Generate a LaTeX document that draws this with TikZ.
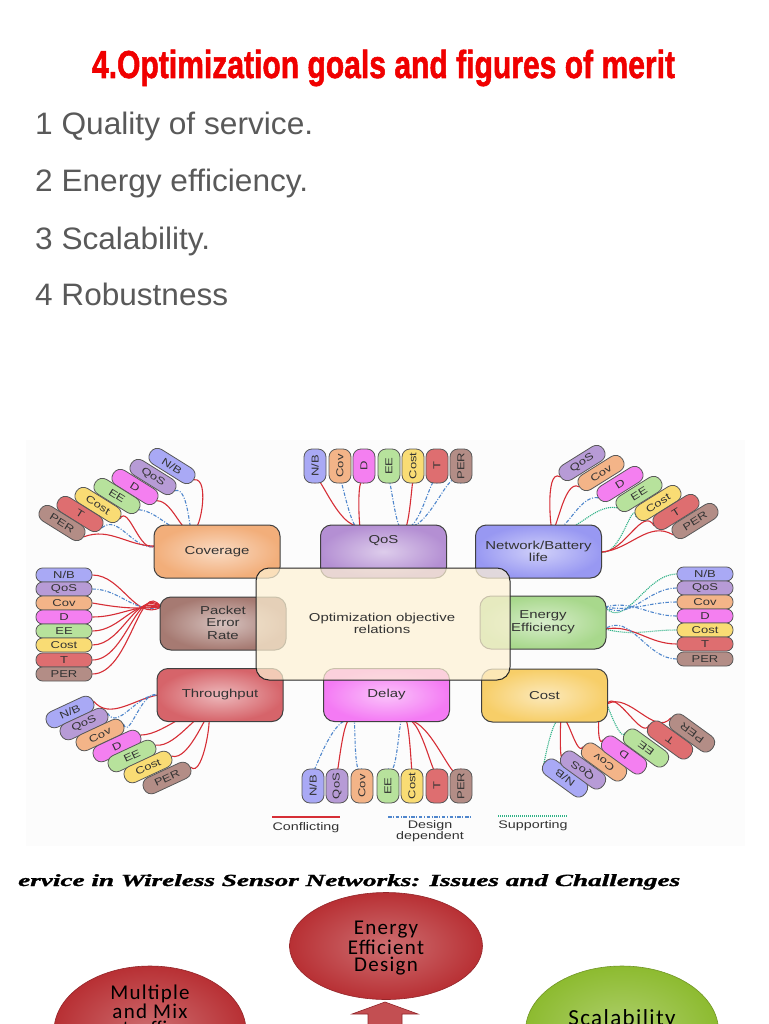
\documentclass[tikz,border=0pt]{standalone}
\usepackage{fontspec}
\setmainfont{Liberation Sans}
\newfontfamily\titlefont{Liberation Sans}[BoldFeatures={FakeBold=1.6}]
\newfontfamily\dfont{Liberation Sans}[FakeStretch=1.3]
\newfontfamily\carl[LetterSpace=6]{Carlito}
\newfontfamily\tser{Liberation Serif}[BoldItalicFeatures={FakeBold=1.2}]
\usetikzlibrary{calc,shapes.geometric}
\pgfdeclarelayer{bg}
\pgfsetlayers{bg,main}
\definecolor{titlered}{HTML}{F00000}
\definecolor{bulgray}{HTML}{595959}
\definecolor{bCov}{HTML}{F2AE7A}
\definecolor{bQoS}{HTML}{B48FD3}
\definecolor{bNet}{HTML}{9898F2}
\definecolor{bPER}{HTML}{A67A72}
\definecolor{bEE}{HTML}{A8D88C}
\definecolor{bThr}{HTML}{D6646A}
\definecolor{bDel}{HTML}{F47AF4}
\definecolor{bCst}{HTML}{F7CE68}
\definecolor{bCen}{HTML}{FEF2D4}
\definecolor{cNB}{HTML}{A9A9F5}
\definecolor{cQoS}{HTML}{B79BD6}
\definecolor{cCov}{HTML}{F3B488}
\definecolor{cD}{HTML}{F47FF0}
\definecolor{cEE}{HTML}{B7E29C}
\definecolor{cCost}{HTML}{F9DC74}
\definecolor{cT}{HTML}{DE6E70}
\definecolor{cPER}{HTML}{B38D86}
\definecolor{confred}{HTML}{D62E36}
\definecolor{ddblue}{HTML}{4F86CC}
\definecolor{suppgreen}{HTML}{2FB286}
\definecolor{txtdark}{HTML}{333333}
\definecolor{ellred}{HTML}{B83034}
\definecolor{ellgreen}{HTML}{8DBB30}
\definecolor{panel}{HTML}{FCFCFC}
\tikzset{
  pill/.style={draw=black!65, line width=0.8pt, inner sep=0pt, text=txtdark,
    font=\dfont\fontsize{10}{10}\selectfont},
  cpill/.style={pill, rounded corners=6.5pt, minimum width=56pt, minimum height=14pt},
  vpill/.style={pill, rotate=90, rounded corners=8pt, minimum width=34pt, minimum height=22pt},
  fpill/.style={pill, rounded corners=8pt, minimum width=51pt, minimum height=17pt},
  objbox/.style={draw=black!75, line width=1pt, rounded corners=11pt,
    minimum width=126pt, minimum height=53pt, inner color=#1!45!white, outer color=#1},
  objtxt/.style={font=\dfont\fontsize{11.5}{12.5}\selectfont, align=center, text=txtdark},
  conf/.style={draw=confred, line width=1.1pt},
  dd/.style={draw=ddblue, line width=1.1pt, dash pattern=on 3.5pt off 1.6pt on 1pt off 1.6pt},
  supp/.style={draw=suppgreen, line width=1.1pt, dash pattern=on 1.1pt off 0.9pt},
  bul/.style={anchor=base west, inner sep=0pt, text=bulgray, font=\fontsize{31}{31}\selectfont},
  legtxt/.style={font=\dfont\fontsize{11}{11}\selectfont, align=center, text=txtdark},
  ell/.style={ellipse, inner sep=0pt, draw=#1!80!black, line width=0.6pt,
    inner color=#1!70!white, outer color=#1},
  elltxt/.style={align=center, inner sep=0pt, font=\carl\fontsize{21}{17}\selectfont}
}
\begin{document}
\begin{tikzpicture}[x=1pt,y=-1pt]
\useasboundingbox (0,0) rectangle (768,1024);
\clip (0,0) rectangle (768,1024);
\begin{pgfonlayer}{bg}
\fill[white] (0,0) rectangle (768,1024);
\fill[panel] (26,440) rectangle (745,846);
\end{pgfonlayer}

% ---------- heading and list ----------
\node[anchor=base, inner sep=0pt, text=titlered] (title) at (383.5,78)
  {\resizebox{583pt}{\height}{\titlefont\fontsize{39}{39}\selectfont\bfseries 4.Optimization goals and figures of merit}};
\node[bul] (b1) at (35,135) {\resizebox{278pt}{\height}{1 Quality of service.}};
\node[bul] (b2) at (35,192) {\resizebox{273pt}{\height}{2 Energy efficiency.}};
\node[bul] (b3) at (35,249) {\resizebox{175pt}{\height}{3 Scalability.}};
\node[bul] (b4) at (35,305) {\resizebox{193pt}{\height}{4 Robustness}};

% ---------- objective boxes ----------
\node[objbox=bCov] (cov) at (217,551.5) {};
\node[objbox=bQoS] (qos) at (383.5,551.5) {};
\node[objbox=bNet] (net) at (538.5,551.5) {};
\node[objbox=bPER] (per) at (223,623.5) {};
\node[objbox=bEE] (ee) at (543,622.5) {};
\node[objbox=bThr] (thr) at (220,695) {};
\node[objbox=bDel] (del) at (386.5,695) {};
\node[objbox=bCst] (cst) at (544.5,695.5) {};
\node[draw=black!85, line width=1pt, fill=bCen, fill opacity=0.72, rounded corners=13pt,
  minimum width=254pt, minimum height=112pt] (cen) at (383,624) {};
\node[objtxt] (cenT) at (382,623.5) {Optimization objective\\relations};
\node[objtxt] (covT) at (217,551.5) {Coverage};
\node[objtxt] (qosT) at (383.5,541) {QoS};
\node[objtxt] (netT) at (538.5,551.5) {Network/Battery\\life};
\node[objtxt] (perT) at (223,622.5) {Packet\\Error\\Rate};
\node[objtxt] (eeT) at (543,622) {Energy\\Efficiency};
\node[objtxt] (thrT) at (220,694.5) {Throughput};
\node[objtxt] (delT) at (386.5,695) {Delay};
\node[objtxt] (cstT) at (544.5,695.5) {Cost};

% convergence points
\coordinate (cvTop) at (192,526);
\coordinate (cvL) at (155,546);
\coordinate (peL) at (161,607);
\coordinate (qT1) at (361,526);
\coordinate (qT2) at (403,526);
\coordinate (nT) at (552,525);
\coordinate (nR) at (602,552);
\coordinate (eR1) at (605,607);
\coordinate (eR2) at (605,629);
\coordinate (thL) at (158,695);
\coordinate (thB) at (207,721);
\coordinate (dB1) at (353,721);
\coordinate (dB2) at (403,721);
\coordinate (cB) at (562,721);
\coordinate (cR) at (607,704);

% ---------- Coverage fan ----------
\node[fpill, fill=cNB, rotate=-32] (aNB) at (172,466) {N/B};
\node[fpill, fill=cQoS, rotate=-32] (aQoS) at (153,477) {QoS};
\node[fpill, fill=cD, rotate=-32] (aD) at (135,487) {D};
\node[fpill, fill=cEE, rotate=-32] (aEE) at (117,496) {EE};
\node[fpill, fill=cCost, rotate=-32] (aCost) at (98,505) {Cost};
\node[fpill, fill=cT, rotate=-32] (aT) at (80,514) {T};
\node[fpill, fill=cPER, rotate=-32] (aPER) at (62,523) {PER};

% ---------- QoS row ----------
\node[vpill, fill=cNB] (tNB) at (315,466) {N/B};
\node[vpill, fill=cCov] (tCov) at (340,466) {Cov};
\node[vpill, fill=cD] (tD) at (364,466) {D};
\node[vpill, fill=cEE] (tEE) at (389,466) {EE};
\node[vpill, fill=cCost] (tCost) at (413,466) {Cost};
\node[vpill, fill=cT] (tT) at (437,466) {T};
\node[vpill, fill=cPER] (tPER) at (461,466) {PER};

% ---------- Network fan ----------
\node[fpill, fill=cQoS, rotate=32] (nQoS) at (582,463) {QoS};
\node[fpill, fill=cCov, rotate=32] (nCov) at (601,473) {Cov};
\node[fpill, fill=cD, rotate=32] (nD) at (620,484) {D};
\node[fpill, fill=cEE, rotate=32] (nEE) at (639,494) {EE};
\node[fpill, fill=cCost, rotate=32] (nCost) at (658,503) {Cost};
\node[fpill, fill=cT, rotate=32] (nTT) at (676,512) {T};
\node[fpill, fill=cPER, rotate=32] (nPER) at (695,521) {PER};

% ---------- PER column ----------
\node[cpill, fill=cNB] (lNB) at (64,575) {N/B};
\node[cpill, fill=cQoS] (lQoS) at (64,589) {QoS};
\node[cpill, fill=cCov] (lCov) at (64,603) {Cov};
\node[cpill, fill=cD] (lD) at (64,617) {D};
\node[cpill, fill=cEE] (lEE) at (64,631) {EE};
\node[cpill, fill=cCost] (lCost) at (64,645) {Cost};
\node[cpill, fill=cT] (lT) at (64,660) {T};
\node[cpill, fill=cPER] (lPER) at (64,674) {PER};

% ---------- EE column ----------
\node[cpill, fill=cNB] (rNB) at (705,574) {N/B};
\node[cpill, fill=cQoS] (rQoS) at (705,588) {QoS};
\node[cpill, fill=cCov] (rCov) at (705,602) {Cov};
\node[cpill, fill=cD] (rD) at (705,616) {D};
\node[cpill, fill=cCost] (rCost) at (705,630) {Cost};
\node[cpill, fill=cT] (rT) at (705,644) {T};
\node[cpill, fill=cPER] (rPER) at (705,659) {PER};

% ---------- Throughput fan ----------
\node[fpill, fill=cNB, rotate=25] (hNB) at (70,712) {N/B};
\node[fpill, fill=cQoS, rotate=25] (hQoS) at (84,724) {QoS};
\node[fpill, fill=cCov, rotate=25] (hCov) at (100,735) {Cov};
\node[fpill, fill=cD, rotate=25] (hD) at (117,746) {D};
\node[fpill, fill=cEE, rotate=25] (hEE) at (132,756) {EE};
\node[fpill, fill=cCost, rotate=25] (hCost) at (148,767) {Cost};
\node[fpill, fill=cPER, rotate=25] (hPER) at (167,778) {PER};

% ---------- Delay row ----------
\node[vpill, fill=cNB] (dNB) at (313,786) {N/B};
\node[vpill, fill=cQoS] (dQoS) at (337,786) {QoS};
\node[vpill, fill=cCov] (dCov) at (362,786) {Cov};
\node[vpill, fill=cEE] (dEE) at (388,786) {EE};
\node[vpill, fill=cCost] (dCost) at (412,786) {Cost};
\node[vpill, fill=cT] (dT) at (437,786) {T};
\node[vpill, fill=cPER] (dPER) at (461,786) {PER};

% ---------- Cost fan ----------
\node[fpill, fill=cNB, rotate=144, minimum height=18pt] (kNB) at (565,778) {N/B};
\node[fpill, fill=cQoS, rotate=144, minimum height=18pt] (kQoS) at (583,770) {QoS};
\node[fpill, fill=cCov, rotate=144, minimum height=18pt] (kCov) at (604,762) {Cov};
\node[fpill, fill=cD, rotate=144, minimum height=18pt] (kD) at (624,755) {D};
\node[fpill, fill=cEE, rotate=144, minimum height=18pt] (kEE) at (646,748) {EE};
\node[fpill, fill=cT, rotate=144, minimum height=18pt] (kT) at (670,740) {T};
\node[fpill, fill=cPER, rotate=144, minimum height=18pt] (kPER) at (692,733) {PER};

% ---------- connectors ----------
\begin{pgfonlayer}{bg}
% Coverage
\draw[conf] (aNB.east) to[out=10,in=-70] (cvTop);
\draw[dd] (aQoS.east) to[out=20,in=-100] (cvTop);
\draw[conf] (aD.east) to[out=0,in=-120] (cvTop);
\draw[dd] (aEE.east) to[out=-5,in=-140] (cvTop);
\draw[conf] (aCost.east) to[out=60,in=-150] (cvL);
\draw[dd] (aT.east) to[out=40,in=-165] (cvL);
\draw[conf] (aPER.east) to[out=20,in=180] (cvL);
% Packet Error Rate
\draw[conf] (lNB.east) to[out=0,in=-150] (peL);
\draw[dd] (lQoS.east) to[out=0,in=-165] (peL);
\draw[conf] (lCov.east) to[out=-10,in=-175] (peL);
\draw[conf] (lD.east) to[out=0,in=175] (peL);
\draw[conf] (lEE.east) to[out=0,in=160] (peL);
\draw[conf] (lCost.east) to[out=0,in=145] (peL);
\draw[conf] (lT.east) to[out=0,in=135] (peL);
\draw[conf] (lPER.east) to[out=0,in=125] (peL);
% QoS
\draw[conf] (tNB.west) to[out=90,in=-170] (qT1);
\draw[dd] (tCov.west) to[out=90,in=-120] (qT1);
\draw[conf] (tD.west) to[out=120,in=-95] (qT1);
\draw[dd] (tEE.west) to[out=90,in=-110] (qT2);
\draw[conf] (tCost.west) to[out=90,in=-70] (qT2);
\draw[dd] (tT.west) to[out=100,in=-40] (qT2);
\draw[dd] (tPER.west) to[out=110,in=-25] (qT2);
% Network
\draw[conf] (nQoS.west) to[out=150,in=-90] (nT);
\draw[conf] (nCov.west) to[out=150,in=-80] (nT);
\draw[dd] (nD.west) to[out=170,in=-60] (nT);
\draw[supp] (nEE.west) to[out=170,in=-40] (nT);
\draw[supp] (nCost.west) to[out=100,in=-10] (nR);
\draw[conf] (nTT.west) to[out=120,in=0] (nR);
\draw[conf] (nPER.west) to[out=150,in=5] (nR);
% Energy efficiency
\draw[supp] (rNB.west) to[out=180,in=-50] (eR1);
\draw[dd] (rQoS.west) to[out=180,in=-30] (eR1);
\draw[dd] (rCov.west) to[out=180,in=-10] (eR1);
\draw[dd] (rD.west) to[out=180,in=15] (eR1);
\draw[supp] (rCost.west) to[out=180,in=-15] (eR2);
\draw[conf] (rT.west) to[out=180,in=10] (eR2);
\draw[dd] (rPER.west) to[out=180,in=35] (eR2);
% Throughput
\draw[conf] (hNB.east) to[out=-50,in=-170] (thL);
\draw[dd] (hQoS.east) to[out=-60,in=175] (thL);
\draw[dd] (hCov.east) to[out=-70,in=160] (thL);
\draw[conf] (hD.east) to[out=0,in=110] (thB);
\draw[conf] (hEE.east) to[out=-10,in=95] (thB);
\draw[conf] (hCost.east) to[out=-20,in=80] (thB);
\draw[conf] (hPER.east) to[out=-45,in=70] (thB);
% Delay
\draw[dd] (dNB.east) to[out=-100,in=150] (dB1);
\draw[conf] (dQoS.east) to[out=-90,in=120] (dB1);
\draw[dd] (dCov.east) to[out=-120,in=80] (dB1);
\draw[dd] (dEE.east) to[out=-60,in=100] (dB2);
\draw[conf] (dCost.east) to[out=-90,in=70] (dB2);
\draw[conf] (dT.east) to[out=-95,in=40] (dB2);
\draw[conf] (dPER.east) to[out=-100,in=20] (dB2);
% Cost
\draw[supp] (kNB.east) to[out=-100,in=120] (cB);
\draw[conf] (kQoS.east) to[out=-100,in=100] (cB);
\draw[conf] (kCov.east) to[out=-120,in=70] (cB);
\draw[conf] (kD.east) to[out=-120,in=135] (cR);
\draw[supp] (kEE.east) to[out=-110,in=110] (cR);
\draw[conf] (kT.east) to[out=-110,in=60] (cR);
\draw[conf] (kPER.east) to[out=-130,in=30] (cR);
\end{pgfonlayer}

% ---------- legend ----------
\coordinate (lc1) at (272,817); \coordinate (lc2) at (340,817);
\coordinate (ld1) at (388,817); \coordinate (ld2) at (472,817);
\coordinate (ls1) at (498,816); \coordinate (ls2) at (567,816);
\draw[conf] (lc1) -- (lc2);
\draw[dd] (ld1) -- (ld2);
\draw[supp] (ls1) -- (ls2);
\node[legtxt] (lgc) at (306,828) {Conflicting};
\node[legtxt] (lgd) at (430,831) {Design\\dependent};
\node[legtxt] (lgs) at (533,826) {Supporting};

% ---------- lower slide ----------
\node[anchor=base west, inner sep=0pt] (sub) at (18,886)
  {\resizebox{662pt}{\height}{\tser\fontsize{17}{17}\selectfont\bfseries\itshape ervice in Wireless Sensor Networks: Issues and Challenges}};
\node[ell=ellred, minimum width=193pt, minimum height=107pt] (eed) at (386,946) {};
\node[elltxt] (eedT) at (386,948) {Energy\\Efficient\\Design};
\node[ell=ellred, minimum width=192pt, minimum height=130pt] (mmt) at (150,1031) {};
\node[elltxt, anchor=north] (mmtT) at (150,985) {Multiple\\and Mix\\traffic};
\node[ell=ellgreen, minimum width=193pt, minimum height=130pt] (scl) at (622,1031) {};
\node[elltxt, font=\carl\fontsize{23}{17}\selectfont] (sclT) at (622,1019) {Scalability};
\fill[ellred!85!white, draw=ellred!80!black, line width=0.6pt]
  (385,1002) -- (418,1014) -- (402,1014) -- (402,1030) -- (368,1030) -- (368,1014) -- (352,1014) -- cycle;
\end{tikzpicture}
\end{document}
